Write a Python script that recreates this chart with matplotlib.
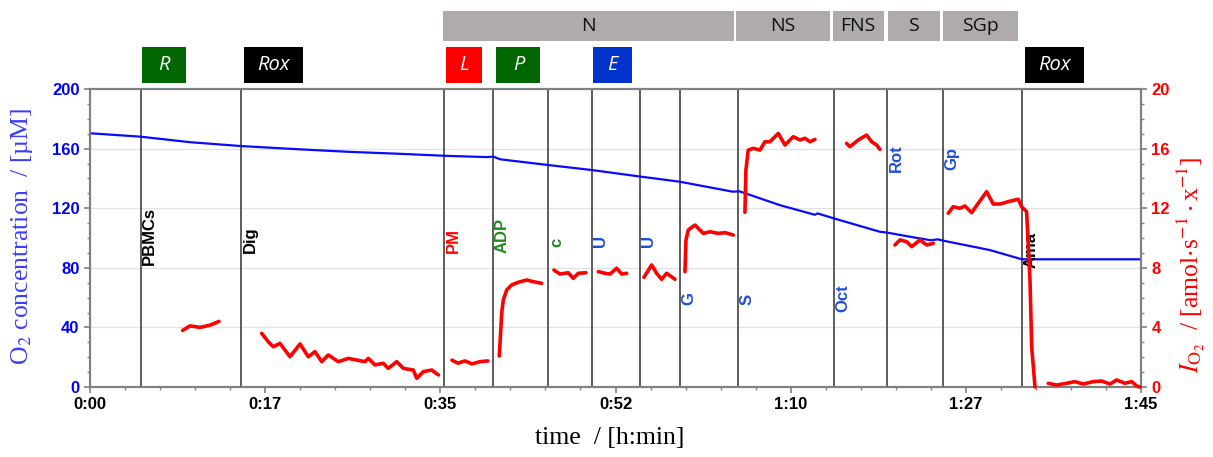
"""O2 concentration and O2 flux trace of a SUIT protocol (PBMCs)."""
import matplotlib

matplotlib.use("Agg")
import matplotlib.pyplot as plt  # noqa: E402
import matplotlib.transforms as mtransforms  # noqa: E402
from matplotlib.patches import Rectangle  # noqa: E402
from matplotlib.ticker import MultipleLocator  # noqa: E402

# time axis in minutes
o2_time = [0, 5.05, 9.99, 15.1, 20.98, 25.97, 30.97, 35.35, 39.6, 40.3, 41.0,
           45.75, 50.15, 54.9, 58.9, 64.2, 64.9, 68.9, 72.4, 72.7, 74.3, 78.9,
           79.65, 82.3, 84.0, 84.7, 85.25, 89.9, 93.1, 105]
o2_conc = [170.3, 168, 164.3, 161.7, 159.5, 157.8, 156.5, 155.2, 154.3, 154.6,
           152.8, 149.0, 145.6, 141.3, 137.8, 131.1, 131.3, 122.1, 115.6, 116.5,
           113.2, 104.2, 103.6, 100.4, 98.5, 99.1, 98.2, 91.9, 85.7, 85.7]

# O2 flux per cell, one list per titration step
flux_times = [
    [9.26, 9.99, 10.99, 11.99, 12.89],
    [17.15, 17.81, 18.31, 18.98, 19.98, 20.98, 21.81, 22.48, 23.15, 23.81,
     24.81, 25.80, 26.64, 27.47, 27.80, 28.47, 29.30, 29.80, 30.64, 31.30,
     32.30, 32.64, 33.30, 34.14, 34.80],
    [36.16, 36.76, 37.46, 38.16, 38.96, 39.76],
    [40.89, 41.13, 41.29, 41.63, 42.13, 42.79, 43.63, 44.29, 45.12],
    [46.35, 46.95, 47.78, 48.28, 48.78, 49.55],
    [50.78, 51.45, 51.95, 52.62, 53.12, 53.62],
    [55.34, 56.11, 56.61, 57.11, 57.61, 58.44],
    [59.44, 59.54, 59.77, 60.44, 61.27, 61.94, 62.77, 63.44, 64.27],
    [65.43, 65.53, 65.76, 66.26, 66.93, 67.43, 67.93, 68.76, 69.43, 70.26,
     70.93, 71.43, 71.93, 72.43],
    [75.59, 75.92, 76.76, 77.59, 78.09, 78.59, 78.92],
    [80.42, 80.92, 81.59, 82.09, 82.92, 83.59, 84.25],
    [85.74, 86.24, 86.91, 87.41, 88.08, 88.74, 89.58, 90.24, 90.91, 91.74,
     92.74, 93.07, 93.57, 93.91, 94.08, 94.41],
    [95.73, 96.57, 97.57, 98.40, 99.23, 100.23, 101.07, 101.9, 102.57, 103.4,
     104.07, 104.57, 104.9],
]
flux_values = [
    [3.8, 4.1, 4.0, 4.15, 4.4],
    [3.6, 3.04, 2.70, 2.93, 2.03, 2.89, 2.03, 2.37, 1.70, 2.15, 1.70, 1.92,
     1.81, 1.70, 1.92, 1.48, 1.59, 1.25, 1.70, 1.25, 1.14, 0.58, 1.03, 1.14,
     0.81],
    [1.8, 1.6, 1.75, 1.55, 1.7, 1.75],
    [2.08, 4.95, 5.84, 6.51, 6.85, 7.03, 7.18, 7.07, 6.96],
    [7.85, 7.58, 7.67, 7.29, 7.63, 7.67],
    [7.74, 7.63, 7.58, 7.97, 7.58, 7.63],
    [7.36, 8.19, 7.63, 7.23, 7.63, 7.23],
    [7.74, 9.87, 10.54, 10.87, 10.31, 10.42, 10.31, 10.36, 10.2],
    [11.72, 14.56, 15.9, 16.02, 15.9, 16.46, 16.46, 17.02, 16.24, 16.8, 16.58,
     16.69, 16.46, 16.62],
    [16.35, 16.13, 16.58, 16.91, 16.46, 16.24, 15.95],
    [9.53, 9.87, 9.75, 9.42, 9.87, 9.53, 9.64],
    [11.66, 12.1, 11.99, 12.15, 11.7, 12.33, 13.11, 12.28, 12.28, 12.44, 12.6,
     12.1, 11.77, 7.18, 2.7, 0],
    [0.25, 0.13, 0.25, 0.36, 0.2, 0.36, 0.4, 0.2, 0.47, 0.25, 0.36, 0.07, 0.0],
]

# titrations
events = ["PBMCs", "Dig", "PM", "ADP", "c", "U", "U", "G", "S", "Oct", "Rot",
          "Gp", "Ama"]
event_times = [5.05, 15.1, 35.4, 40.3, 45.75, 50.15, 54.9, 58.9, 64.7, 74.3,
               79.65, 85.25, 93.1]

# coupling/pathway states (top grey bar)
states = ["N", "NS", "FNS", "S", "SGp"]
state_start = [35.3, 64.5, 74.2, 79.7, 85.2]
state_end = [64.3, 73.9, 79.3, 84.9, 92.7]

# coloured state boxes
boxes = ["R", "Rox", "L", "P", "E", "Rox"]
box_start = [5.2, 15.4, 35.6, 40.6, 50.25, 93.4]
box_end = [9.6, 21.3, 39.2, 45.0, 54.1, 99.3]

x_ticks = [0, 17.5, 35, 52.5, 70, 87.5, 105]
x_labels = ["0:00", "0:17", "0:35", "0:52", "1:10", "1:27", "1:45"]

# styles
GREEN = "#006600"
LGREEN = "#1f8a1f"
LBLUE = "#1f4fd8"
event_colors = ["black", "black", "red", LGREEN, LGREEN, LBLUE, LBLUE, LBLUE,
                LBLUE, LBLUE, LBLUE, LBLUE, "black"]
event_label_y = [82, 90, 90, 90, 94, 94, 94, 55, 55, 50.3, 144.3, 145.6, 80]
box_colors = [GREEN, "black", "#ff0000", GREEN, "#0033cc", "black"]
SPINE = "#808080"

plt.rcParams["mathtext.fontset"] = "stix"
sans = "Liberation Sans"
serif = "Liberation Serif"

fig = plt.figure(figsize=(12.13, 4.57), dpi=100)
ax = fig.add_axes([90 / 1213, 70 / 457, 1051 / 1213, 298 / 457])
ax2 = ax.twinx()

ax.set_xlim(0, 105)
ax.set_ylim(0, 200)
ax2.set_ylim(0, 20)

for y in (40, 80, 120, 160):
    ax.axhline(y, color="#e2e2e2", lw=1.0, zorder=0)

for t in event_times:
    ax.axvline(t, color="#505050", lw=1.3, zorder=1)

ax.plot(o2_time, o2_conc, color="#0a0aff", lw=1.6, zorder=3)
for ts, vs in zip(flux_times, flux_values):
    ax2.plot(ts, vs, color="#ff0000", lw=2.6, solid_capstyle="round",
             solid_joinstyle="round", clip_on=False, zorder=4)

for name, t, y, c in zip(events, event_times, event_label_y, event_colors):
    ax.text(t + 0.15, y, name, rotation=90, ha="left", va="bottom", color=c,
            fontsize=12, fontweight="bold", family=sans, zorder=5)

trans = mtransforms.blended_transform_factory(ax.transData, ax.transAxes)
for name, t0, t1 in zip(states, state_start, state_end):
    ax.add_patch(Rectangle((t0, 1.161), t1 - t0, 0.101, transform=trans,
                           facecolor="#afabab", edgecolor="none",
                           clip_on=False))
    ax.text((t0 + t1) / 2, 1.2115, name, transform=trans, ha="center",
            va="center", fontsize=14, family="Open Sans", color="#111111")
for name, t0, t1, c in zip(boxes, box_start, box_end, box_colors):
    ax.add_patch(Rectangle((t0, 1.020), t1 - t0, 0.121, transform=trans,
                           facecolor=c, edgecolor="none", clip_on=False))
    ax.text((t0 + t1) / 2, 1.0805, name, transform=trans, ha="center",
            va="center", fontsize=14.5, family="Open Sans", style="italic",
            color="white")

ax.set_xticks(x_ticks)
ax.set_xticklabels(x_labels)
ax.xaxis.set_minor_locator(MultipleLocator(3.5))
ax.yaxis.set_major_locator(MultipleLocator(40))
ax.yaxis.set_minor_locator(MultipleLocator(10))
ax2.yaxis.set_major_locator(MultipleLocator(4))
ax2.yaxis.set_minor_locator(MultipleLocator(1))

for a in (ax, ax2):
    for sp in a.spines.values():
        sp.set_color(SPINE)
        sp.set_linewidth(1.5)
    a.tick_params(which="major", length=4, width=1.2, color=SPINE)
    a.tick_params(which="minor", length=2.5, width=1.0, color=SPINE)
ax.tick_params(axis="x", which="both", pad=3)
for lab in ax.get_xticklabels():
    lab.set_fontweight("bold")
    lab.set_fontsize(12)
    lab.set_family(sans)
for lab in ax.get_yticklabels():
    lab.set_fontweight("bold")
    lab.set_fontsize(12)
    lab.set_family(sans)
    lab.set_color("#0000ff")
for lab in ax2.get_yticklabels():
    lab.set_fontweight("bold")
    lab.set_fontsize(12)
    lab.set_family(sans)
    lab.set_color("#ff0000")

fig.text(22 / 1213, 1 - 236 / 457, r"O$_2$ concentration  / [µM]",
         rotation=90, ha="center", va="center", color="#3c3cff",
         fontsize=18.5, family=serif)
fig.text(1191 / 1213, 1 - 265 / 457,
         r"$I_{\mathrm{O_2}}$  / [amol$\cdot$s$^{-1}\cdot$x$^{-1}$]",
         rotation=90, ha="center", va="center", color="#ff0000",
         fontsize=18.5, family=serif)
fig.text(610 / 1213, 1 - 438 / 457, "time  / [h:min]", ha="center",
         va="center", color="black", fontsize=18.5, family=serif)

fig.savefig("out.png", dpi=100)
